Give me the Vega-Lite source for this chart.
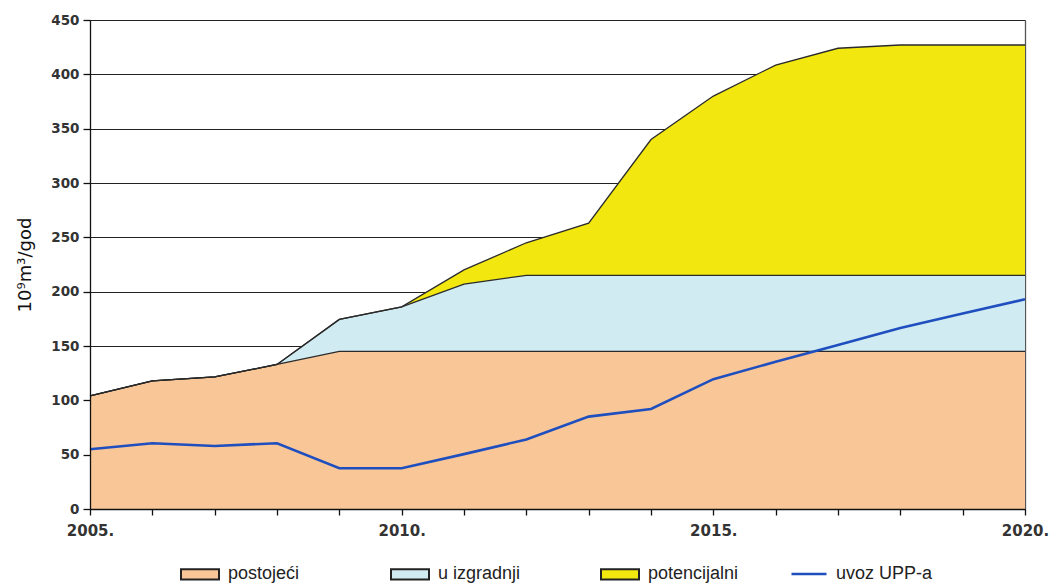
{
  "$schema": "https://vega.github.io/schema/vega-lite/v6.json",
  "width": 935,
  "height": 489,
  "autosize": {"type": "none"},
  "padding": {"left": 90, "top": 20, "right": 25, "bottom": 74},
  "background": "white",
  "config": {"view": {"stroke": "#9a9a9a", "strokeWidth": 1}, "font": "DejaVu Sans"},
  "data": {
    "values": [
      {"year": 2005, "postojeci": 104, "izgradnja": 104, "potencijal": 104, "upp": 55},
      {"year": 2006, "postojeci": 118, "izgradnja": 118, "potencijal": 118, "upp": 60.5},
      {"year": 2007, "postojeci": 121.5, "izgradnja": 121.5, "potencijal": 121.5, "upp": 58},
      {"year": 2008, "postojeci": 133, "izgradnja": 133, "potencijal": 133, "upp": 60.5},
      {"year": 2009, "postojeci": 145, "izgradnja": 174.5, "potencijal": 174.5, "upp": 37.5},
      {"year": 2010, "postojeci": 145, "izgradnja": 186, "potencijal": 186, "upp": 37.5},
      {"year": 2011, "postojeci": 145, "izgradnja": 207, "potencijal": 220, "upp": 50.5},
      {"year": 2012, "postojeci": 145, "izgradnja": 215, "potencijal": 245, "upp": 64},
      {"year": 2013, "postojeci": 145, "izgradnja": 215, "potencijal": 263, "upp": 85},
      {"year": 2014, "postojeci": 145, "izgradnja": 215, "potencijal": 340, "upp": 92},
      {"year": 2015, "postojeci": 145, "izgradnja": 215, "potencijal": 380, "upp": 119.5},
      {"year": 2016, "postojeci": 145, "izgradnja": 215, "potencijal": 408.5, "upp": 135.5},
      {"year": 2017, "postojeci": 145, "izgradnja": 215, "potencijal": 424, "upp": 151},
      {"year": 2018, "postojeci": 145, "izgradnja": 215, "potencijal": 427, "upp": 166.5},
      {"year": 2019, "postojeci": 145, "izgradnja": 215, "potencijal": 427, "upp": 180},
      {"year": 2020, "postojeci": 145, "izgradnja": 215, "potencijal": 427, "upp": 193}
    ]
  },
  "layer": [
    {
      "mark": {"type": "area", "opacity": 1},
      "encoding": {
        "x": {
          "field": "year",
          "type": "quantitative",
          "scale": {"domain": [2005, 2020], "nice": false, "zero": false},
          "axis": {
            "values": [2005, 2006, 2007, 2008, 2009, 2010, 2011, 2012, 2013, 2014, 2015, 2016, 2017, 2018, 2019, 2020],
            "labelExpr": "datum.value % 5 === 0 ? datum.value + '.' : ''",
            "grid": false,
            "title": null,
            "domainColor": "#111",
            "domainWidth": 1.3,
            "tickColor": "#111",
            "tickWidth": 1.3,
            "tickSize": 6,
            "labelFont": "DejaVu Sans",
            "labelFontWeight": "bold",
            "labelFontSize": 15,
            "labelColor": "#333",
            "labelPadding": 8,
            "labelFlush": false,
            "labelOverlap": false,
            "zindex": 1
          }
        },
        "y": {
          "field": "potencijal",
          "type": "quantitative",
          "scale": {"domain": [0, 450], "nice": false},
          "axis": {
            "values": [0, 50, 100, 150, 200, 250, 300, 350, 400, 450],
            "grid": false,
            "title": "10⁹m³/god",
            "titleFont": "DejaVu Sans",
            "titleFontSize": 18,
            "titleFontWeight": "normal",
            "titleColor": "#111",
            "titlePadding": 16,
            "domainColor": "#111",
            "domainWidth": 1.3,
            "tickColor": "#111",
            "tickWidth": 1.3,
            "tickSize": 7,
            "labelFont": "DejaVu Sans",
            "labelFontWeight": "bold",
            "labelFontSize": 13.5,
            "labelColor": "#333",
            "labelPadding": 4,
            "zindex": 1
          }
        },
        "y2": {"field": "izgradnja"},
        "fill": {
          "datum": "potencijalni",
          "type": "nominal",
          "scale": {
            "domain": ["postojeći", "u izgradnji", "potencijalni"],
            "range": ["#f9c797", "#d0ebf2", "#f2e80f"]
          },
          "legend": {
            "orient": "none",
            "legendX": 90,
            "legendY": 534,
            "direction": "horizontal",
            "title": null,
            "symbolType": "M-1,-0.27H1V0.27H-1Z",
            "symbolSize": 1444,
            "symbolStrokeColor": "#222",
            "symbolStrokeWidth": 2,
            "symbolOpacity": 1,
            "labelFont": "Liberation Sans",
            "labelFontSize": 18,
            "labelColor": "#222",
            "labelOffset": 8,
            "columnPadding": 68,
            "gridAlign": "all"
          }
        }
      }
    },
    {
      "mark": {"type": "area", "opacity": 1},
      "encoding": {
        "x": {"field": "year", "type": "quantitative"},
        "y": {"field": "izgradnja", "type": "quantitative", "axis": null},
        "y2": {"field": "postojeci"},
        "fill": {"datum": "u izgradnji", "type": "nominal"}
      }
    },
    {
      "mark": {"type": "area", "opacity": 1},
      "encoding": {
        "x": {"field": "year", "type": "quantitative"},
        "y": {"field": "postojeci", "type": "quantitative", "axis": null},
        "fill": {"datum": "postojeći", "type": "nominal"}
      }
    },
    {
      "mark": {"type": "line", "color": "#2a2a2a", "strokeWidth": 1.3},
      "encoding": {
        "x": {"field": "year", "type": "quantitative"},
        "y": {"field": "potencijal", "type": "quantitative", "axis": null}
      }
    },
    {
      "mark": {"type": "line", "color": "#2a2a2a", "strokeWidth": 1.3},
      "encoding": {
        "x": {"field": "year", "type": "quantitative"},
        "y": {"field": "izgradnja", "type": "quantitative", "axis": null}
      }
    },
    {
      "mark": {"type": "line", "color": "#2a2a2a", "strokeWidth": 1.3},
      "encoding": {
        "x": {"field": "year", "type": "quantitative"},
        "y": {"field": "postojeci", "type": "quantitative", "axis": null}
      }
    },
    {
      "mark": {"type": "line", "strokeWidth": 2.6},
      "encoding": {
        "x": {"field": "year", "type": "quantitative"},
        "y": {
          "field": "upp",
          "type": "quantitative",
          "axis": {
            "orient": "right",
            "values": [0, 50, 100, 150, 200, 250, 300, 350, 400, 450],
            "grid": true,
            "gridColor": "#222",
            "gridWidth": 1.1,
            "labels": false,
            "ticks": false,
            "domain": true,
            "domainColor": "#555",
            "domainWidth": 1.3,
            "title": null,
            "zindex": 0
          }
        },
        "stroke": {
          "datum": "uvoz UPP-a",
          "type": "nominal",
          "scale": {"domain": ["uvoz UPP-a"], "range": ["#1f4fbf"]},
          "legend": {
            "orient": "none",
            "legendX": 700,
            "legendY": 535,
            "title": null,
            "symbolType": "stroke",
            "symbolSize": 1225,
            "symbolStrokeWidth": 2.6,
            "labelFont": "Liberation Sans",
            "labelFontSize": 18,
            "labelColor": "#222",
            "labelOffset": 8
          }
        }
      }
    }
  ],
  "resolve": {"axis": {"y": "independent"}}
}
